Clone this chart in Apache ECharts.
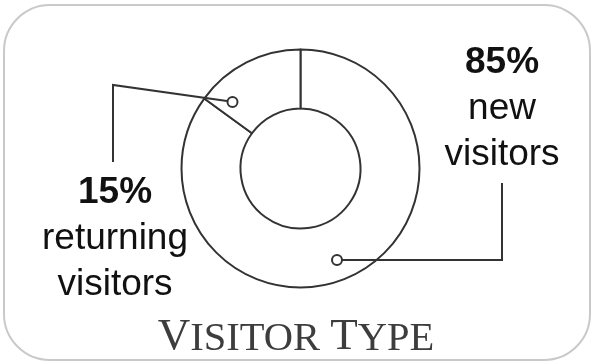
<!DOCTYPE html>
<html>
<head>
<meta charset="utf-8">
<script src="https://cdn.jsdelivr.net/npm/echarts@6/dist/echarts.min.js"></script>
<style>
  html, body { margin: 0; padding: 0; background: #fff; }
  #chart { width: 592px; height: 362px; }
</style>
</head>
<body>
<div id="chart"></div>
<script>
// ---- data ----
const categories = ['new visitors', 'returning visitors'];
const values = [85, 15];
const titleBig = ['V', 'T'];
const titleSmall = ['ISITOR ', 'YPE'];

const chart = echarts.init(document.getElementById('chart'), null, { renderer: 'canvas' });

const pieData = categories.map((c, i) => ({ name: c, value: values[i] }));

function labelFmt(p) {
  const words = p.name.split(' ');
  return '{p|' + p.value + '%}\n' + words.map(w => '{n|' + w + '}').join('\n');
}

const labelPos = [
  { x: 502, y: 109 },
  { x: 115, y: 239 }
];

const lineStyle = { stroke: '#333', lineWidth: 2, fill: null };

chart.setOption({
  animation: false,
  backgroundColor: '#fff',
  title: {
    text: '{a|' + titleBig[0] + '}{b|' + titleSmall[0] + '}{a|' + titleBig[1] + '}{b|' + titleSmall[1] + '}',
    left: 'center',
    top: 310,
    textStyle: {
      fontFamily: 'Liberation Serif',
      fontSize: 40,
      color: '#3d3d3d',
      fontWeight: 'normal',
      rich: {
        a: { fontFamily: 'Liberation Serif', fontSize: 45, color: '#3d3d3d', verticalAlign: 'bottom' },
        b: { fontFamily: 'Liberation Serif', fontSize: 40.5, color: '#3d3d3d', verticalAlign: 'bottom' }
      }
    }
  },
  graphic: [
    {
      type: 'rect', z: -1,
      shape: { x: 4, y: 5, width: 586, height: 355, r: 46 },
      style: { fill: '#fff', stroke: '#c9c9c9', lineWidth: 2 }
    },
    {
      type: 'polyline', z: 10,
      shape: { points: [[227, 101], [113, 85], [113, 162]] },
      style: lineStyle
    },
    {
      type: 'circle', z: 11,
      shape: { cx: 232.5, cy: 102, r: 5 },
      style: { fill: '#fff', stroke: '#333', lineWidth: 2 }
    },
    {
      type: 'polyline', z: 10,
      shape: { points: [[342, 260], [502, 260], [502, 183]] },
      style: lineStyle
    },
    {
      type: 'circle', z: 11,
      shape: { cx: 337, cy: 260, r: 5 },
      style: { fill: '#fff', stroke: '#333', lineWidth: 2 }
    }
  ],
  series: [{
    type: 'pie',
    center: [300.5, 168.5],
    radius: [60, 119],
    startAngle: 90,
    clockwise: true,
    avoidLabelOverlap: false,
    silent: true,
    itemStyle: { color: '#fff', borderColor: '#333', borderWidth: 2 },
    emphasis: { disabled: true },
    labelLine: { show: false },
    label: {
      show: true,
      position: 'outside',
      formatter: labelFmt,
      color: '#111',
      rich: {
        p: { fontFamily: 'Liberation Sans', fontSize: 37, fontWeight: 'bold', color: '#111', lineHeight: 46, align: 'center' },
        n: { fontFamily: 'Liberation Sans', fontSize: 37, color: '#111', lineHeight: 46, align: 'center' }
      }
    },
    labelLayout: function (params) {
      const p = labelPos[params.dataIndex];
      return { x: p.x, y: p.y, align: 'center', verticalAlign: 'middle' };
    },
    data: pieData
  }]
});
</script>
</body>
</html>
